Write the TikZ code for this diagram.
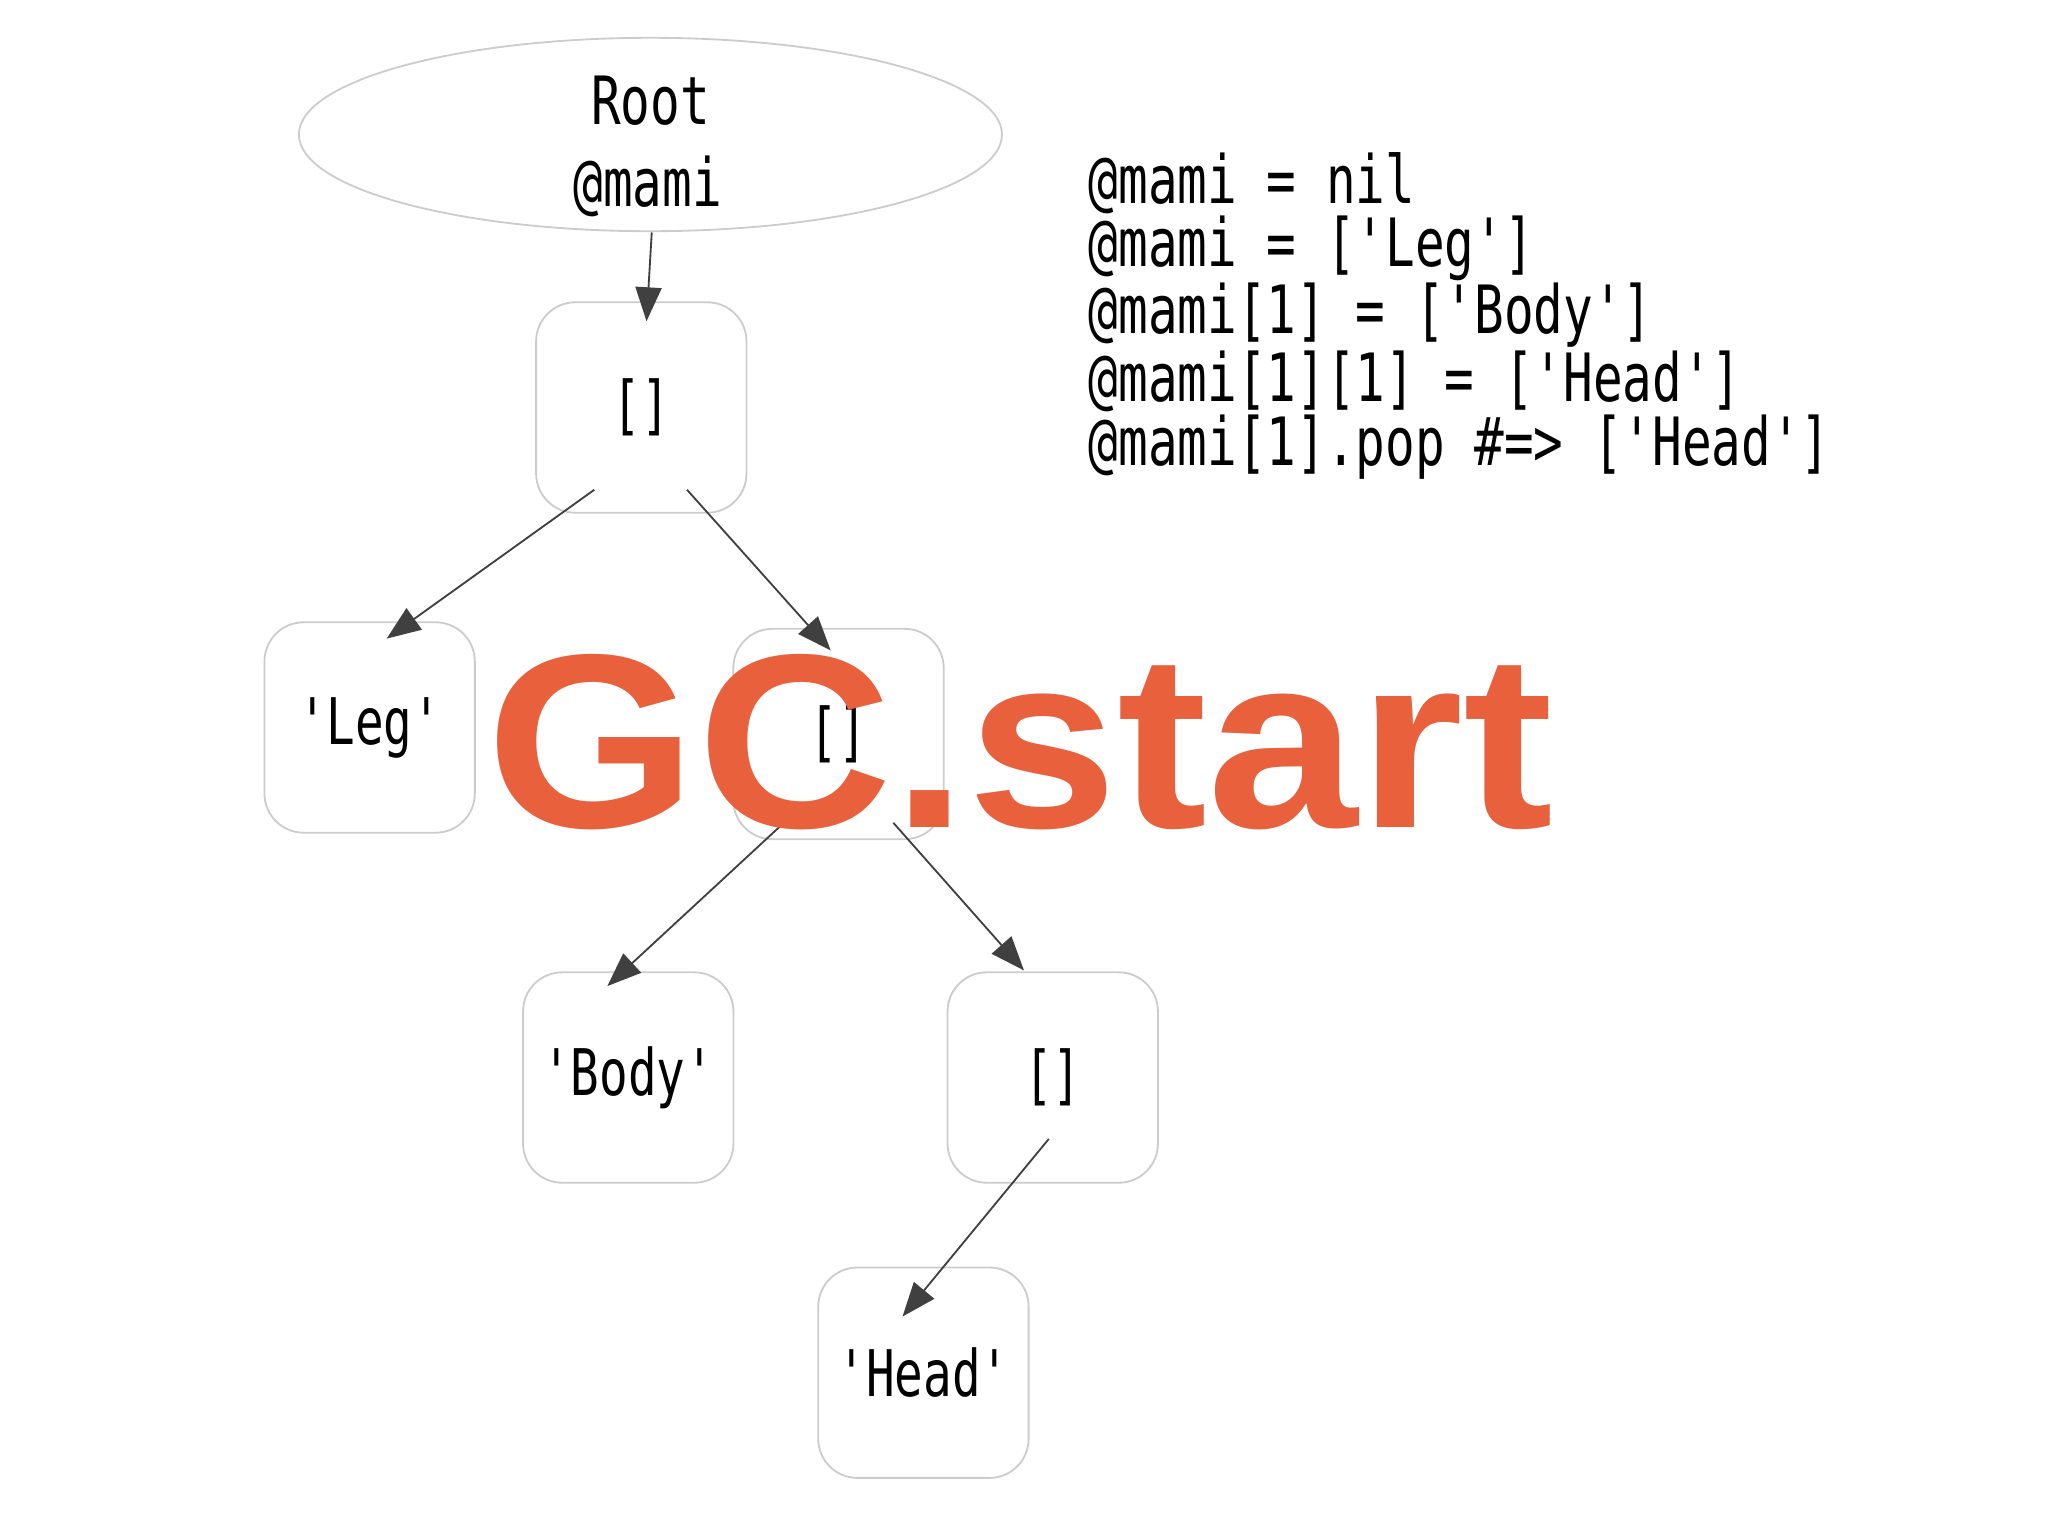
\documentclass[tikz,border=0pt]{standalone}
\usepackage{fontspec}
\usetikzlibrary{arrows.meta,shapes.geometric}
\newfontfamily\codefont[FakeStretch=0.74]{DejaVu Sans Mono}
\newfontfamily\gcfont{Liberation Sans}
\definecolor{gcorange}{HTML}{E8603C}
\begin{document}
\begin{tikzpicture}[x=0.01cm,y=-0.01cm,
  box/.style={draw=black!20,line width=0.4pt,rounded corners=0.3cm,minimum width=1.61cm,minimum height=1.61cm,inner sep=0pt,font=\codefont\fontsize{14}{16}\selectfont},
  edge/.style={draw=black!75,line width=0.4pt,-{Triangle[length=0.26cm,width=0.2cm]}},
  code/.style={anchor=west,font=\codefont\fontsize{14.5}{16}\selectfont,inner sep=0pt}]
\useasboundingbox (0,0) rectangle (1568,1177);
\node[draw=black!20,ellipse,minimum width=5.38cm,minimum height=1.48cm,inner sep=0pt] (root) at (498,103) {};
\node[font=\codefont\fontsize{14.5}{16}\selectfont] (rt) at (498,77) {Root};
\node[font=\codefont\fontsize{14.5}{16}\selectfont] (rm) at (496,143) {@mami};
\node[box] (a) at (491,312) {[]};
\node[box] (leg) at (283,557) {'Leg'};
\node[box] (b) at (642,562) {[]};
\node[box] (body) at (481,825) {'Body'};
\node[box] (c) at (806,825) {[]};
\node[box] (head) at (707,1051) {'Head'};
\coordinate (e1s) at (499,178); \coordinate (e1t) at (495,246);
\coordinate (e2s) at (455,375); \coordinate (e2t) at (296,489);
\coordinate (e3s) at (526,375); \coordinate (e3t) at (636,498);
\coordinate (e4s) at (598,632); \coordinate (e4t) at (465,755);
\coordinate (e5s) at (684,630); \coordinate (e5t) at (784,743);
\coordinate (e6s) at (803,872); \coordinate (e6t) at (691,1008);
\draw[edge] (e1s) -- (e1t);
\draw[edge] (e2s) -- (e2t);
\draw[edge] (e3s) -- (e3t);
\draw[edge] (e4s) -- (e4t);
\draw[edge] (e5s) -- (e5t);
\draw[edge] (e6s) -- (e6t);
\node[code] (l1) at (833,140) {@mami = nil};
\node[code] (l2) at (833,190) {@mami = ['Leg']};
\node[code] (l3) at (833,241) {@mami[1] = ['Body']};
\node[code] (l4) at (833,292) {@mami[1][1] = ['Head']};
\node[code] (l5) at (833,342) {@mami[1].pop \#=> ['Head']};
\node[font=\gcfont\bfseries\fontsize{54}{60}\selectfont,text=gcorange,xscale=1.09,inner sep=0pt] (gc) at (781,568) {GC.start};
\end{tikzpicture}
\end{document}
